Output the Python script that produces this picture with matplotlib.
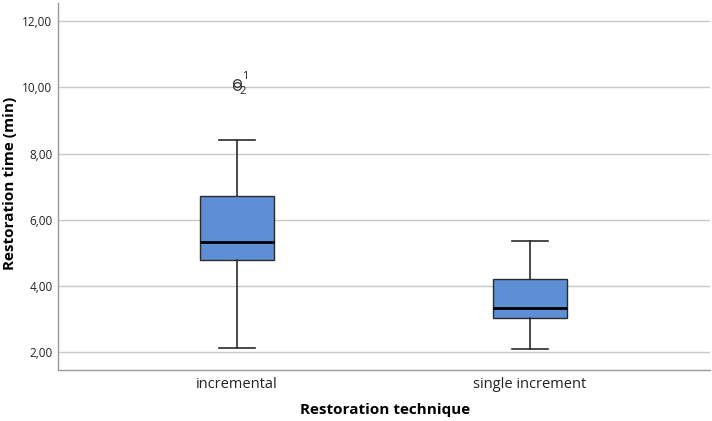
import matplotlib
matplotlib.use("Agg")
import matplotlib.pyplot as plt
from matplotlib.ticker import FuncFormatter

categories = ["incremental", "single increment"]
whisker_low = [2.12, 2.09]
q1 = [4.78, 3.03]
median = [5.32, 3.33]
q3 = [6.71, 4.21]
whisker_high = [8.40, 5.35]
outliers = [[10.12, 10.04], []]
outlier_ids = [["1", "2"], []]
yticks = [2, 4, 6, 8, 10, 12]

plt.rcParams['font.family'] = ['Open Sans', 'DejaVu Sans']

fig = plt.figure(figsize=(7.12, 4.21), dpi=100)
ax = fig.add_axes([58/712, 1 - 370/421, (710-58)/712, (370-3)/421])

stats = []
for i in range(len(categories)):
    stats.append(dict(med=median[i], q1=q1[i], q3=q3[i], whislo=whisker_low[i],
                      whishi=whisker_high[i], fliers=[], label=categories[i]))
pos = list(range(len(categories)))
ax.bxp(stats, positions=pos, widths=0.25, patch_artist=True, showfliers=False,
       boxprops=dict(facecolor="#5e8ed3", edgecolor="#2b2b2b", linewidth=1.0),
       medianprops=dict(color="black", linewidth=2.0),
       whiskerprops=dict(color="#2b2b2b", linewidth=1.2),
       capprops=dict(color="#2b2b2b", linewidth=1.2), capwidths=0.125, zorder=3)

for i, (vals, ids) in enumerate(zip(outliers, outlier_ids)):
    for k, (v, lab) in enumerate(zip(vals, ids)):
        ax.plot(pos[i], v, marker="o", markersize=5.5, markerfacecolor="none",
                markeredgecolor="#333333", markeredgewidth=0.9, zorder=4)
        dy = 5 if k == 0 else -4
        dx = 6 if k == 0 else 4
        ax.annotate(lab, (pos[i], v), xytext=(dx, dy), textcoords="offset points",
                    ha="center", va="center", fontsize=8, color="#222222")

ax.set_xlim(-0.611, 1.614)
ax.set_ylim(1.456, 12.55)
ax.set_yticks(yticks)
ax.yaxis.set_major_formatter(FuncFormatter(lambda v, p: f"{v:.2f}".replace(".", ",")))
ax.set_xticks(pos)
ax.set_xticklabels(categories, fontsize=10.5, color="#222222")
ax.tick_params(axis="y", labelsize=8.5, colors="#222222", length=0, pad=4)
ax.tick_params(axis="x", length=0, pad=5)
ax.grid(axis="y", color="#c8c8c8", linewidth=1.0, zorder=0)
ax.set_axisbelow(True)
for s in ["top", "right"]:
    ax.spines[s].set_visible(False)
for s in ["left", "bottom"]:
    ax.spines[s].set_color("#999999")
    ax.spines[s].set_linewidth(1.0)

ax.set_ylabel("Restoration time (min)", fontsize=11, fontweight="bold")
ax.set_xlabel("Restoration technique", fontsize=11, fontweight="bold")
ax.yaxis.set_label_coords((10 - 58) / 652, (370 - 183) / 367)
ax.xaxis.set_label_coords((385 - 58) / 652, (370 - 410) / 367)
ax.xaxis.label.set_va("center")
ax.yaxis.label.set_va("center")

fig.savefig("out.png", dpi=100)
